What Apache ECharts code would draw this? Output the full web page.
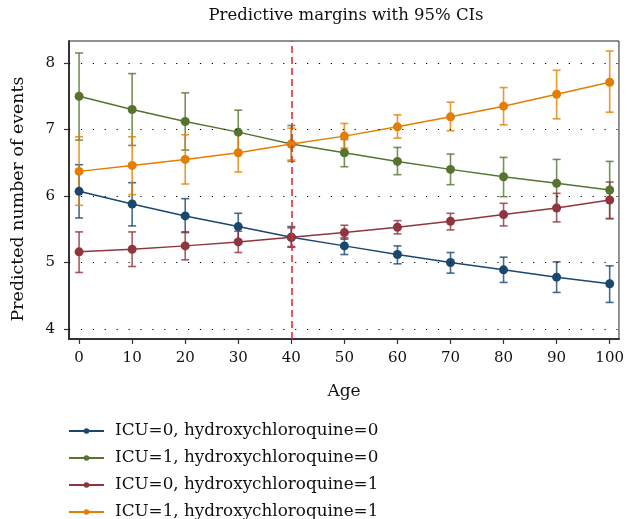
<!DOCTYPE html>
<html>
<head>
<meta charset="utf-8">
<script src="https://cdn.jsdelivr.net/npm/echarts@6/dist/echarts.min.js"></script>
<style>html,body{margin:0;padding:0;background:#fff}#c{width:627px;height:519px}</style>
</head>
<body>
<div id="c"></div>
<script>
const ages = [0, 10, 20, 30, 40, 50, 60, 70, 80, 90, 100];
const xTicks = [0, 10, 20, 30, 40, 50, 60, 70, 80, 90, 100];
const yTicks = [4, 5, 6, 7, 8];
const refAge = 40;

const names = [
  'ICU=0, hydroxychloroquine=0',
  'ICU=1, hydroxychloroquine=0',
  'ICU=0, hydroxychloroquine=1',
  'ICU=1, hydroxychloroquine=1'
];

const est00 = [6.07, 5.88, 5.70, 5.54, 5.38, 5.25, 5.12, 5.00, 4.89, 4.78, 4.68];
const lo00  = [5.67, 5.55, 5.46, 5.34, 5.23, 5.12, 4.98, 4.84, 4.70, 4.55, 4.40];
const hi00  = [6.47, 6.20, 5.96, 5.74, 5.54, 5.37, 5.25, 5.15, 5.08, 5.01, 4.95];

const est10 = [7.50, 7.30, 7.12, 6.96, 6.78, 6.65, 6.52, 6.40, 6.29, 6.19, 6.09];
const lo10  = [6.84, 6.76, 6.69, 6.64, 6.52, 6.44, 6.32, 6.17, 5.99, 5.83, 5.66];
const hi10  = [8.15, 7.84, 7.55, 7.29, 7.06, 6.85, 6.73, 6.63, 6.58, 6.55, 6.52];

const est01 = [5.16, 5.20, 5.25, 5.31, 5.38, 5.45, 5.53, 5.62, 5.72, 5.82, 5.94];
const lo01  = [4.85, 4.94, 5.04, 5.15, 5.24, 5.35, 5.43, 5.49, 5.55, 5.61, 5.66];
const hi01  = [5.46, 5.46, 5.45, 5.47, 5.52, 5.56, 5.63, 5.74, 5.89, 6.04, 6.21];

const est11 = [6.37, 6.46, 6.55, 6.65, 6.78, 6.90, 7.04, 7.19, 7.35, 7.53, 7.71];
const lo11  = [5.86, 6.02, 6.18, 6.36, 6.54, 6.72, 6.87, 6.98, 7.07, 7.16, 7.26];
const hi11  = [6.89, 6.89, 6.92, 6.94, 7.02, 7.09, 7.22, 7.41, 7.63, 7.89, 8.18];

const colors = ['#1a476f', '#55752f', '#90353b', '#e37e00'];
const ests = [est00, est10, est01, est11];
const los = [lo00, lo10, lo01, lo11];
const his = [hi00, hi10, hi01, hi11];

const FONT = 'DejaVu Serif';
const TEXT = '#111';

function ciSeries(i) {
  const color = colors[i];
  return {
    type: 'custom',
    name: 'ci' + i,
    z: 2,
    silent: true,
    data: ages.map((a, k) => [a, los[i][k], his[i][k]]),
    encode: { x: 0, y: [1, 2] },
    renderItem: function (params, api) {
      const x = api.value(0);
      const top = api.coord([x, api.value(2)]);
      const bot = api.coord([x, api.value(1)]);
      const w = 4;
      const st = { stroke: color, lineWidth: 1.6, opacity: 0.8 };
      return {
        type: 'group',
        children: [
          { type: 'line', shape: { x1: top[0], y1: top[1], x2: bot[0], y2: bot[1] }, style: st },
          { type: 'line', shape: { x1: top[0] - w, y1: top[1], x2: top[0] + w, y2: top[1] }, style: st },
          { type: 'line', shape: { x1: bot[0] - w, y1: bot[1], x2: bot[0] + w, y2: bot[1] }, style: st }
        ]
      };
    }
  };
}

function lineSeries(i) {
  return {
    type: 'line',
    name: names[i],
    z: 3,
    data: ages.map((a, k) => [a, ests[i][k]]),
    symbol: 'circle',
    symbolSize: 9,
    showSymbol: true,
    lineStyle: { color: colors[i], width: 1.5 },
    itemStyle: { color: colors[i] },
    emphasis: { disabled: true },
    animation: false
  };
}

const series = [];
for (let i = 0; i < 4; i++) series.push(ciSeries(i));
for (let i = 0; i < 4; i++) series.push(lineSeries(i));

series.push({
  type: 'line',
  name: 'refs',
  data: [],
  z: 1,
  markLine: {
    silent: true,
    symbol: ['none', 'none'],
    label: { show: false },
    animation: false,
    data: yTicks.map(v => ({ yAxis: v, lineStyle: { color: '#000', width: 1.2, type: [1.2, 10.7] } }))
      .concat([{ xAxis: refAge, lineStyle: { color: '#d9303e', width: 1.6, type: [7, 4] } }])
  }
});

const chart = echarts.init(document.getElementById('c'), null, { renderer: 'canvas' });
chart.setOption({
  animation: false,
  backgroundColor: '#fff',
  textStyle: { fontFamily: FONT },
  title: {
    text: 'Predictive margins with 95% CIs',
    left: 346, top: 7, textAlign: 'center', padding: 0,
    textStyle: { fontFamily: FONT, fontSize: 16.5, fontWeight: 'normal', color: TEXT }
  },
  grid: {
    left: 69, right: 7, top: 41, bottom: 180,
    show: true, borderColor: '#222', borderWidth: 1, backgroundColor: 'transparent'
  },
  legend: {
    data: names,
    orient: 'vertical',
    left: 68, top: 421, height: 140,
    padding: 0,
    itemWidth: 35, itemHeight: 7,
    itemGap: 7,
    textStyle: { fontFamily: FONT, fontSize: 16.8, lineHeight: 20, color: TEXT, padding: [0, 0, 0, 6] },
    selectedMode: false
  },
  xAxis: {
    type: 'value', min: -1.9, max: 101.75,
    name: 'Age', nameLocation: 'middle', nameGap: 44,
    nameTextStyle: { fontFamily: FONT, fontSize: 17, color: TEXT },
    axisLine: { show: true, onZero: false, lineStyle: { color: '#333', width: 2 } },
    axisTick: { show: true, inside: false, length: 5, customValues: xTicks, lineStyle: { color: '#333', width: 1.2 } },
    axisLabel: { show: true, customValues: xTicks, fontFamily: FONT, fontSize: 15, color: TEXT, margin: 12 },
    splitLine: { show: false }
  },
  yAxis: {
    type: 'value', min: 3.85, max: 8.33,
    name: 'Predicted number of events', nameLocation: 'middle', nameGap: 42,
    nameTextStyle: { fontFamily: FONT, fontSize: 17.4, color: TEXT, padding: [0, 18, 0, 0] },
    axisLine: { show: true, onZero: false, lineStyle: { color: '#333', width: 2 } },
    axisTick: { show: true, inside: false, length: 5, customValues: yTicks, lineStyle: { color: '#333', width: 1.2 } },
    axisLabel: { show: true, customValues: yTicks, fontFamily: FONT, fontSize: 15, color: TEXT, margin: 14 },
    splitLine: { show: false }
  },
  series: series
});
</script>
</body>
</html>
